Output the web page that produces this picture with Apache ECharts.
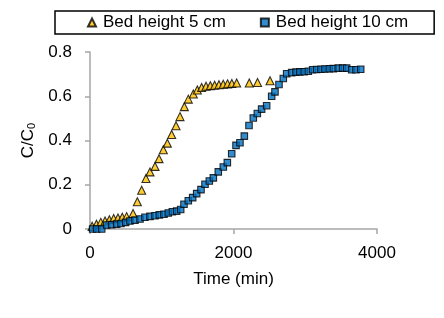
<!DOCTYPE html>
<html>
<head>
<meta charset="utf-8">
<script src="https://cdn.jsdelivr.net/npm/echarts@6/dist/echarts.min.js"></script>
<style>
  html, body { margin: 0; padding: 0; background: #fff; }
  #container { width: 444px; height: 318px; }
</style>
</head>
<body>
<div id="container"></div>
<script>
// Bed height 5 cm
let time5 = [30, 90, 150, 210, 270, 330, 390, 450, 510, 600, 660, 720, 780, 836, 906, 962, 1022, 1078, 1138, 1199, 1254, 1315, 1370, 1440, 1496, 1556, 1617, 1677, 1737, 1797, 1857, 1917, 1977, 2044, 2220, 2335, 2509];
let ratio5 = [0.012, 0.022, 0.03, 0.036, 0.042, 0.047, 0.05, 0.053, 0.056, 0.07, 0.123, 0.175, 0.228, 0.258, 0.283, 0.318, 0.358, 0.388, 0.427, 0.467, 0.508, 0.553, 0.587, 0.61, 0.628, 0.64, 0.645, 0.648, 0.65, 0.652, 0.654, 0.656, 0.658, 0.66, 0.66, 0.662, 0.67];

// Bed height 10 cm
let time10 = [37, 93, 163, 232, 302, 372, 432, 497, 557, 627, 697, 766, 836, 906, 966, 1031, 1091, 1148, 1208, 1264, 1310, 1370, 1431, 1487, 1547, 1603, 1663, 1719, 1788, 1858, 1914, 1975, 2035, 2090, 2151, 2216, 2276, 2332, 2392, 2462, 2532, 2578, 2634, 2694, 2741, 2811, 2871, 2925, 2985, 3043, 3103, 3159, 3219, 3275, 3335, 3391, 3460, 3520, 3577, 3647, 3707, 3773];
let ratio10 = [0, 0, 0, 0.018, 0.02, 0.022, 0.025, 0.03, 0.036, 0.04, 0.045, 0.053, 0.057, 0.06, 0.064, 0.067, 0.072, 0.078, 0.081, 0.088, 0.112, 0.128, 0.142, 0.16, 0.178, 0.202, 0.217, 0.231, 0.258, 0.28, 0.3, 0.34, 0.378, 0.39, 0.42, 0.468, 0.502, 0.522, 0.542, 0.557, 0.6, 0.62, 0.653, 0.68, 0.702, 0.707, 0.709, 0.71, 0.711, 0.713, 0.72, 0.721, 0.722, 0.723, 0.724, 0.725, 0.727, 0.727, 0.727, 0.72, 0.72, 0.722];

let xTicks = [0, 2000, 4000];
let yTicks = [0, 0.2, 0.4, 0.6, 0.8];

let font = 'Liberation Sans';
let axisGrey = '#a6a6a6';

var myChart = echarts.init(document.getElementById('container'));

let option = {
  animation: false,
  textStyle: { fontFamily: font },
  legend: {
    left: 55,
    top: 11,
    padding: [3, 26, 3, 32],
    itemGap: 34,
    itemWidth: 8,
    itemHeight: 8,
    borderColor: '#000',
    borderWidth: 1.5,
    borderRadius: 0,
    textStyle: { fontFamily: font, fontSize: 17, color: '#000', padding: [0, 0, 0, 2] },
    data: [
      { name: 'Bed height 5 cm', icon: 'triangle' },
      { name: 'Bed height 10 cm', icon: 'rect' },
    ],
  },
  grid: {
    left: 90,
    right: 67,
    top: 52,
    bottom: 89,
  },
  xAxis: {
    type: 'value',
    min: 0,
    max: 4000,
    interval: 2000,
    name: 'Time (min)',
    nameLocation: 'middle',
    nameGap: 42,
    nameTextStyle: { fontFamily: font, fontSize: 17, color: '#000' },
    axisLine: { lineStyle: { color: axisGrey, width: 1.5 } },
    axisTick: { show: true, length: 5, lineStyle: { color: axisGrey, width: 1.5 } },
    axisLabel: {
      fontSize: 17,
      color: '#000',
      margin: 16,
      customValues: xTicks,
      formatter: (v) => String(v),
    },
    splitLine: { show: false },
  },
  yAxis: {
    type: 'value',
    min: 0,
    max: 0.8,
    interval: 0.2,
    name: '{n|C/C}{s|0}',
    nameLocation: 'middle',
    nameGap: 50,
    nameRotate: 90,
    nameTextStyle: {
      rich: {
        n: { fontFamily: font, fontSize: 17, color: '#000' },
        s: { fontFamily: font, fontSize: 11, color: '#000', verticalAlign: 'bottom', padding: [8, 0, 0, 0] },
      },
    },
    axisLine: { show: true, lineStyle: { color: axisGrey, width: 1.5 } },
    axisTick: { show: true, inside: false, length: 5, lineStyle: { color: axisGrey, width: 1.5 } },
    axisLabel: {
      fontSize: 17,
      color: '#000',
      margin: 18,
      customValues: yTicks,
      formatter: (v) => (v === 0 ? '0' : v.toFixed(1)),
    },
    splitLine: { show: false },
  },
  series: [
    {
      name: 'Bed height 5 cm',
      type: 'scatter',
      symbol: 'triangle',
      symbolSize: 8,
      itemStyle: { color: '#FFC000', borderColor: '#000', borderWidth: 1.1 },
      data: time5.map((t, i) => [t, ratio5[i]]),
      z: 2,
    },
    {
      name: 'Bed height 10 cm',
      type: 'scatter',
      symbol: 'rect',
      symbolSize: 6.5,
      itemStyle: { color: '#0070C0', borderColor: '#000', borderWidth: 1.1 },
      data: time10.map((t, i) => [t, ratio10[i]]),
      z: 3,
    },
  ],
};

myChart.setOption(option);
</script>
</body>
</html>
